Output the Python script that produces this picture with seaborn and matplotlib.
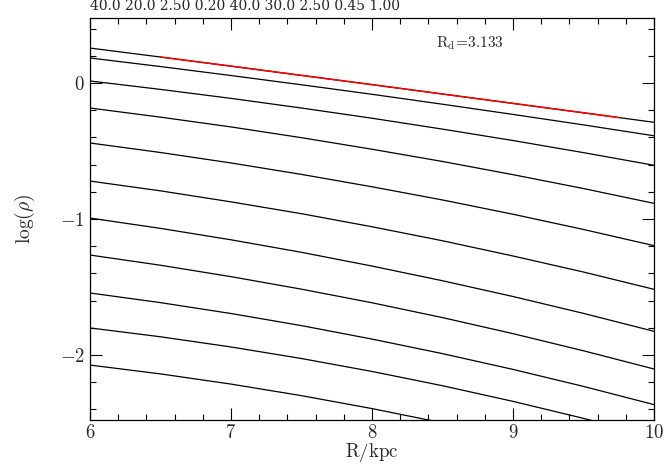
import numpy as np
import pandas as pd
import matplotlib
matplotlib.use("Agg")
import matplotlib.pyplot as plt
import seaborn as sns

# radius grid (kpc) and log density, top to bottom
radius = [6.0, 6.5, 7.0, 7.5, 8.0, 8.5, 9.0, 9.5, 10.0]
curve_01 = [0.257, 0.191, 0.124, 0.056, -0.012, -0.081, -0.150, -0.219, -0.289]
curve_02 = [0.184, 0.121, 0.055, -0.013, -0.083, -0.156, -0.231, -0.308, -0.388]
curve_03 = [0.015, -0.047, -0.113, -0.184, -0.259, -0.339, -0.423, -0.512, -0.605]
curve_04 = [-0.184, -0.251, -0.323, -0.402, -0.487, -0.577, -0.674, -0.776, -0.885]
curve_05 = [-0.441, -0.511, -0.588, -0.672, -0.763, -0.860, -0.965, -1.077, -1.196]
curve_06 = [-0.721, -0.793, -0.874, -0.961, -1.057, -1.160, -1.272, -1.390, -1.517]
curve_07 = [-0.993, -1.069, -1.153, -1.245, -1.346, -1.454, -1.570, -1.694, -1.826]
curve_08 = [-1.265, -1.340, -1.424, -1.516, -1.616, -1.725, -1.843, -1.969, -2.103]
curve_09 = [-1.544, -1.615, -1.695, -1.784, -1.883, -1.990, -2.106, -2.231, -2.365]
curve_10 = [-1.801, -1.866, -1.941, -2.026, -2.121, -2.226, -2.341, -2.466, -2.601]
curve_11 = [-2.074, -2.139, -2.214, -2.299, -2.394, -2.499, -2.614, -2.739, -2.874]

# highlighted part of the top curve
red_radius = [6.5, 7.0, 7.5, 8.0, 8.5, 9.0, 9.5, 9.75]
red_logrho = [0.191, 0.124, 0.056, -0.012, -0.081, -0.150, -0.219, -0.254]

xticks = [6, 7, 8, 9, 10]
yticks = [-2, -1, 0]
top_text = "40.0 20.0 2.50 0.20 40.0 30.0 2.50 0.45 1.00"
rd_text = r"$\mathrm{R_d\!=\!3.133}$"

curves = [curve_01, curve_02, curve_03, curve_04, curve_05, curve_06,
          curve_07, curve_08, curve_09, curve_10, curve_11]
rows = []
for i, c in enumerate(curves):
    for r, v in zip(radius, c):
        rows.append({"R": r, "logrho": v, "curve": i})
df = pd.DataFrame(rows)
df_red = pd.DataFrame({"R": red_radius, "logrho": red_logrho})

sns.set_theme(style="ticks")
plt.rcParams["mathtext.fontset"] = "cm"
plt.rcParams["font.family"] = ["DejaVu Serif"]

fig = plt.figure(figsize=(6.64, 4.67), dpi=100)
ax = fig.add_axes([90 / 664, 1 - 420 / 467, 564 / 664, 402 / 467])

sns.lineplot(data=df, x="R", y="logrho", units="curve", estimator=None,
             color="black", linewidth=0.9, ax=ax, legend=False)
sns.lineplot(data=df_red, x="R", y="logrho", estimator=None,
             color="red", linewidth=1.1, ax=ax, legend=False)

ax.set_xlim(6, 10)
ax.set_ylim(-2.478, 0.478)
ax.set_xticks(xticks, labels=[f"${t}$" for t in xticks])
ax.set_yticks(yticks, labels=[f"${t}$" for t in yticks])
ax.xaxis.set_minor_locator(matplotlib.ticker.MultipleLocator(0.2))
ax.yaxis.set_minor_locator(matplotlib.ticker.MultipleLocator(0.2))
ax.tick_params(which="both", direction="in", top=True, right=True,
               color="black", width=0.8)
ax.tick_params(which="major", length=8.5, labelsize=13.5, pad=4)
ax.tick_params(axis="x", which="major", pad=3)
ax.tick_params(which="minor", length=4.5)
for s in ax.spines.values():
    s.set_color("black")
    s.set_linewidth(0.9)

ax.set_xlabel(r"$\mathrm{R/kpc}$", fontsize=13.5, labelpad=-1)
ax.set_ylabel(r"$\log(\rho)$", fontsize=14, labelpad=16)

ax.text(8.695, 0.294, rd_text, ha="center", va="center", fontsize=11)
fig.text(90 / 664, 1 - 9.5 / 467, top_text, ha="left", va="baseline",
         fontsize=10, family="DejaVu Serif")

fig.savefig("out.png", dpi=100)
